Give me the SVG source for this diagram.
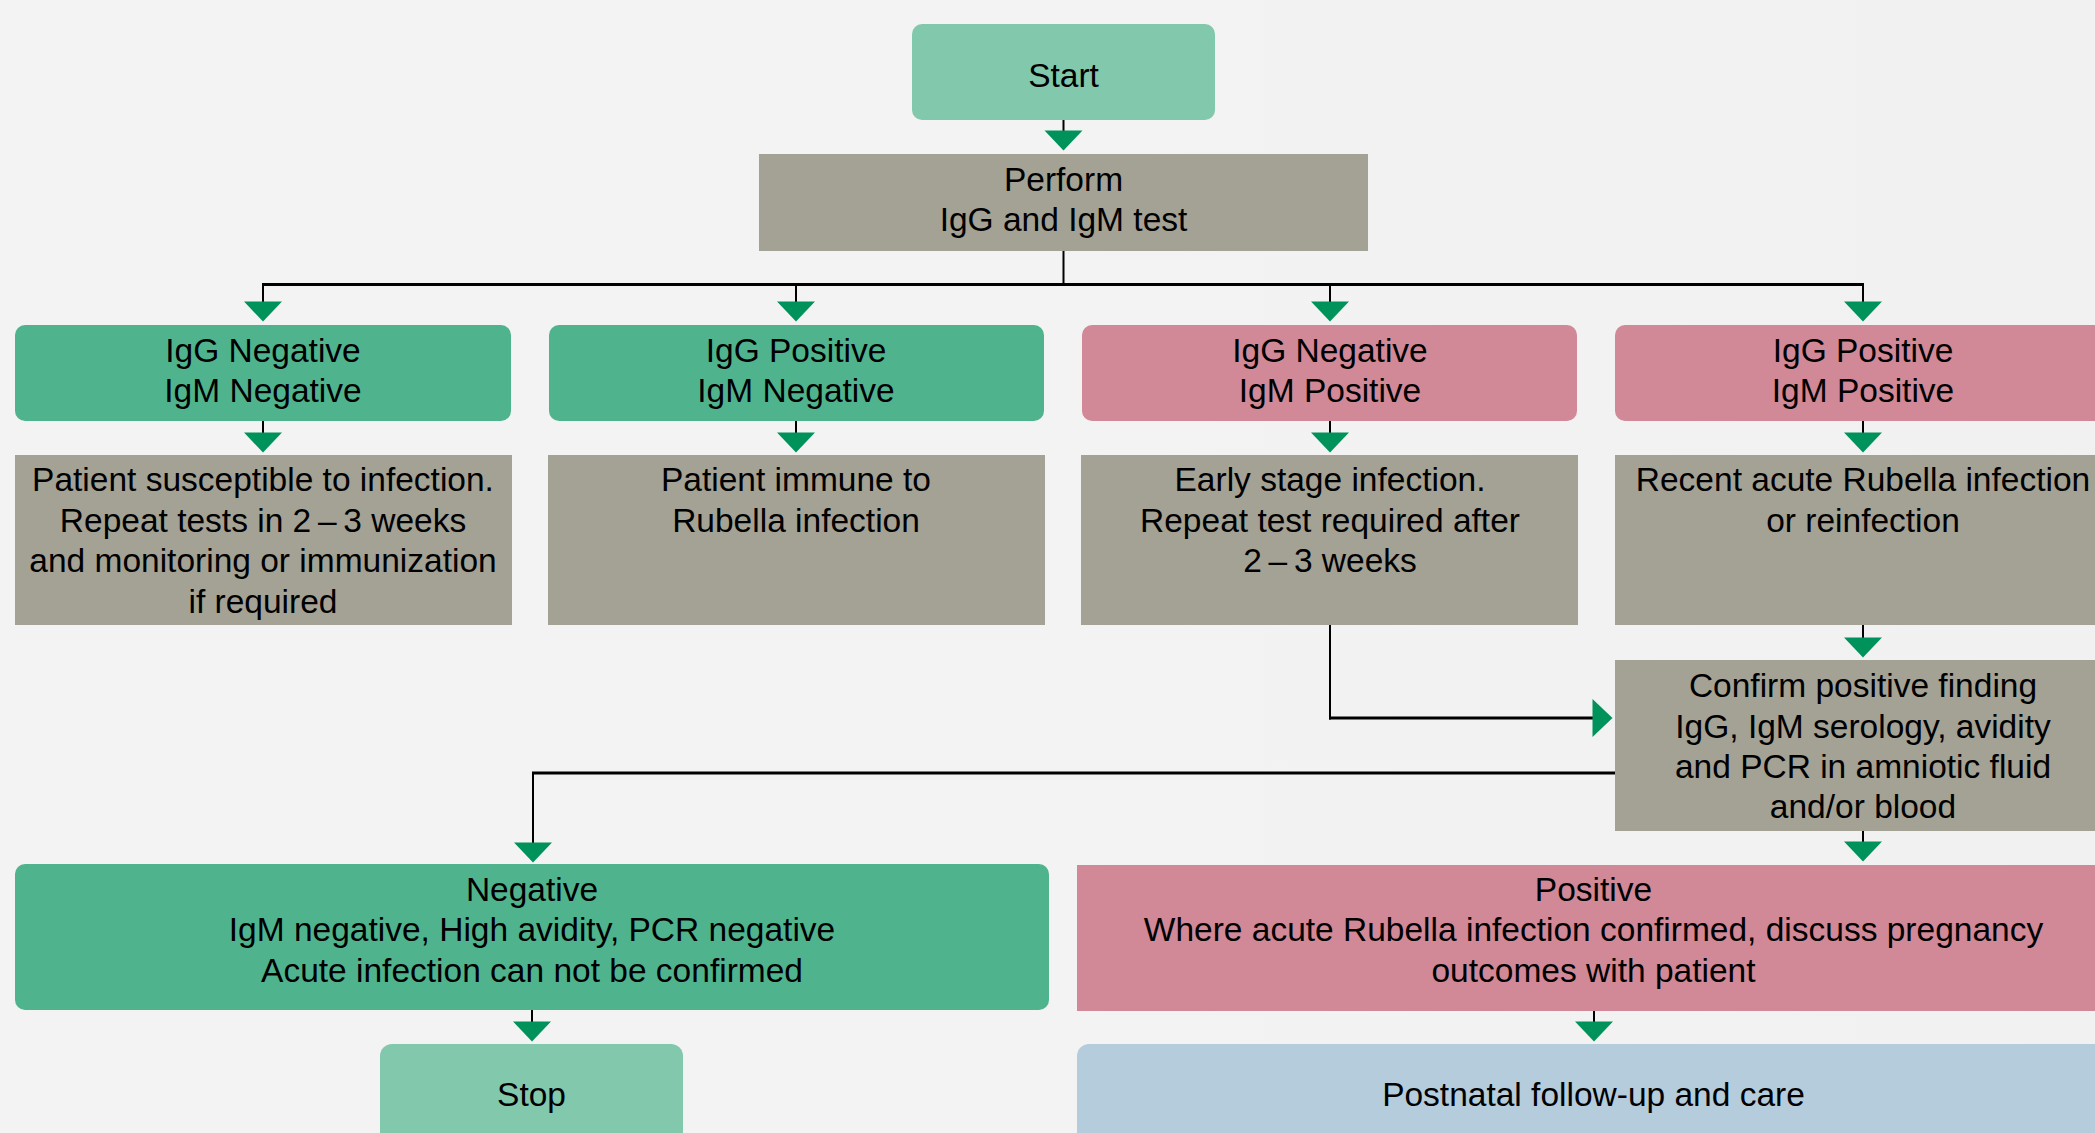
<svg xmlns="http://www.w3.org/2000/svg" width="2095" height="1133" viewBox="0 0 2095 1133">
  <defs>
    <linearGradient id="bg" x1="0" y1="0" x2="1" y2="0">
      <stop offset="0" stop-color="#f3f3f3"/>
      <stop offset="0.5" stop-color="#f4f3f3"/>
      <stop offset="1" stop-color="#f1f1f1"/>
    </linearGradient>
    <marker id="ah" viewBox="0 0 20 38" refX="0.5" refY="19" markerWidth="20" markerHeight="38" markerUnits="userSpaceOnUse" orient="auto" overflow="visible">
      <path d="M0,0 L20,19 L0,38 Z" fill="#00925b"/>
    </marker>
    <style>
      .lite { fill: #82c8ac; }
      .green { fill: #4fb48e; }
      .pink { fill: #d18897; }
      .gray { fill: #a4a294; }
      .blue { fill: #b4ccdc; }
      text { font-family: "Liberation Sans", Arial, sans-serif; font-size: 33.5px; fill: #000; text-anchor: middle; }
      .ln { stroke: #000; stroke-width: 2; fill: none; }
      .lnh { stroke: #000; stroke-width: 3; fill: none; }
      .arr { stroke: #000; stroke-width: 2; fill: none; marker-end: url(#ah); }
      .arrh { stroke: #000; stroke-width: 3; fill: none; marker-end: url(#ah); }
    </style>
  </defs>

  <rect x="0" y="0" width="2095" height="1133" fill="url(#bg)"/>

  <g id="connectors">
    <path class="arr" d="M1063.5 120 V131"/>
    <path class="ln" d="M1063.5 251 V285"/>
    <path class="lnh" d="M262 284.5 H1864"/>
    <path class="arr" d="M263 284 V302"/>
    <path class="arr" d="M796 284 V302"/>
    <path class="arr" d="M1330 284 V302"/>
    <path class="arr" d="M1863 284 V302"/>
    <path class="arr" d="M263 421 V433"/>
    <path class="arr" d="M796 421 V433"/>
    <path class="arr" d="M1330 421 V433"/>
    <path class="arr" d="M1863 421 V433"/>
    <path class="ln" d="M1330 625 V719.5"/>
    <path class="arrh" d="M1329 718 H1593"/>
    <path class="arr" d="M1863 625 V638"/>
    <path class="lnh" d="M1615 773 H532"/>
    <path class="arr" d="M533 772 V843"/>
    <path class="arr" d="M1863 831 V842"/>
    <path class="arr" d="M532 1010 V1022"/>
    <path class="arr" d="M1594 1011 V1022"/>
  </g>

  <g id="start">
    <rect class="lite" x="912" y="24" width="303" height="96" rx="10"/>
    <text x="1063.5" y="87">Start</text>
  </g>

  <g id="perform">
    <rect class="gray" x="759" y="154" width="609" height="97"/>
    <text x="1063.5" y="191">Perform</text>
    <text x="1063.5" y="231">IgG and IgM test</text>
  </g>

  <g id="neg-neg">
    <rect class="green" x="15" y="325" width="496" height="96" rx="10"/>
    <text x="263" y="362">IgG Negative</text>
    <text x="263" y="402">IgM Negative</text>
  </g>

  <g id="pos-neg">
    <rect class="green" x="549" y="325" width="495" height="96" rx="10"/>
    <text x="796" y="362">IgG Positive</text>
    <text x="796" y="402">IgM Negative</text>
  </g>

  <g id="neg-pos">
    <rect class="pink" x="1082" y="325" width="495" height="96" rx="10"/>
    <text x="1330" y="362">IgG Negative</text>
    <text x="1330" y="402">IgM Positive</text>
  </g>

  <g id="pos-pos">
    <rect class="pink" x="1615" y="325" width="497" height="96" rx="10"/>
    <text x="1863" y="362">IgG Positive</text>
    <text x="1863" y="402">IgM Positive</text>
  </g>

  <g id="susceptible">
    <rect class="gray" x="15" y="455" width="497" height="170"/>
    <text x="263" y="491">Patient susceptible to infection.</text>
    <text x="263" y="532">Repeat tests in 2&#8201;–&#8201;3 weeks</text>
    <text x="263" y="572">and monitoring or immunization</text>
    <text x="263" y="613">if required</text>
  </g>

  <g id="immune">
    <rect class="gray" x="548" y="455" width="497" height="170"/>
    <text x="796" y="491">Patient immune to</text>
    <text x="796" y="532">Rubella infection</text>
  </g>

  <g id="early">
    <rect class="gray" x="1081" y="455" width="497" height="170"/>
    <text x="1330" y="491">Early stage infection.</text>
    <text x="1330" y="532">Repeat test required after</text>
    <text x="1330" y="572">2&#8201;–&#8201;3 weeks</text>
  </g>

  <g id="recent">
    <rect class="gray" x="1615" y="455" width="497" height="170"/>
    <text x="1863" y="491">Recent acute Rubella infection</text>
    <text x="1863" y="532">or reinfection</text>
  </g>

  <g id="confirm">
    <rect class="gray" x="1615" y="660" width="497" height="171"/>
    <text x="1863" y="697">Confirm positive finding</text>
    <text x="1863" y="738">IgG, IgM serology, avidity</text>
    <text x="1863" y="778">and PCR in amniotic fluid</text>
    <text x="1863" y="818">and/or blood</text>
  </g>

  <g id="negative">
    <rect class="green" x="15" y="864" width="1034" height="146" rx="10"/>
    <text x="532" y="901">Negative</text>
    <text x="532" y="941">IgM negative, High avidity, PCR negative</text>
    <text x="532" y="982">Acute infection can not be confirmed</text>
  </g>

  <g id="positive">
    <rect class="pink" x="1077" y="865" width="1033" height="146"/>
    <text x="1593.5" y="901">Positive</text>
    <text x="1593.5" y="941">Where acute Rubella infection confirmed, discuss pregnancy</text>
    <text x="1593.5" y="982">outcomes with patient</text>
  </g>

  <g id="stop">
    <rect class="lite" x="380" y="1044" width="303" height="110" rx="12"/>
    <text x="531.5" y="1106">Stop</text>
  </g>

  <g id="postnatal">
    <rect class="blue" x="1077" y="1044" width="1040" height="110" rx="12"/>
    <text x="1593.5" y="1106">Postnatal follow-up and care</text>
  </g>
</svg>
